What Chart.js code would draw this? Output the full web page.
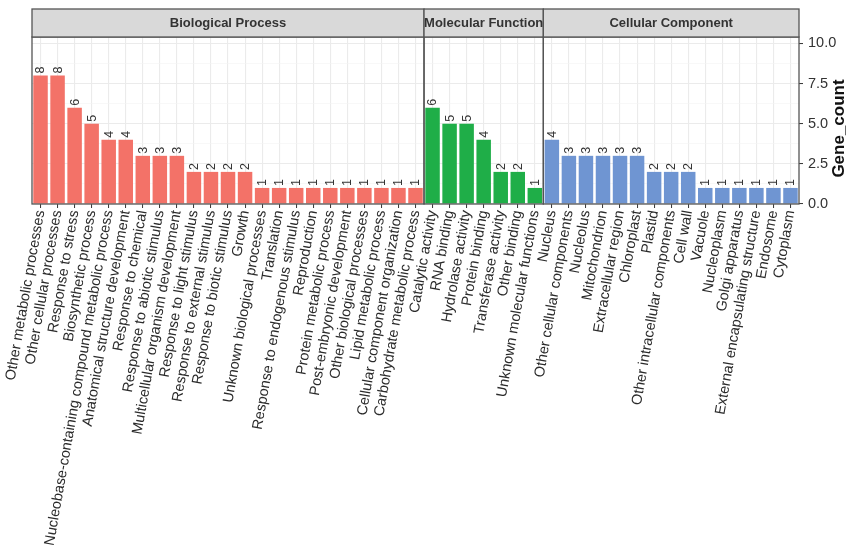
<!DOCTYPE html>
<html>
<head>
<meta charset="utf-8">
<script src="https://cdn.jsdelivr.net/npm/chart.js@4.4.0/dist/chart.umd.min.js"></script>
<style>
html,body{margin:0;padding:0;background:#fff;}
#wrap{width:858px;height:549px;position:relative;}
</style>
</head>
<body>
<div id="wrap"><canvas id="c" width="858" height="549"></canvas></div>
<script>
const groups = ["Biological Process", "Molecular Function", "Cellular Component"];
const bpTerms = ["Other metabolic processes","Other cellular processes","Response to stress","Biosynthetic process","Nucleobase-containing compound metabolic process","Anatomical structure development","Response to chemical","Response to abiotic stimulus","Multicellular organism development","Response to light stimulus","Response to external stimulus","Response to biotic stimulus","Growth","Unknown biological processes","Translation","Response to endogenous stimulus","Reproduction","Protein metabolic process","Post-embryonic development","Other biological processes","Lipid metabolic process","Cellular component organization","Carbohydrate metabolic process"];
const bpCounts = [8,8,6,5,4,4,3,3,3,2,2,2,2,1,1,1,1,1,1,1,1,1,1];
const mfTerms = ["Catalytic activity","RNA binding","Hydrolase activity","Protein binding","Transferase activity","Other binding","Unknown molecular functions"];
const mfCounts = [6,5,5,4,2,2,1];
const ccTerms = ["Nucleus","Other cellular components","Nucleolus","Mitochondrion","Extracellular region","Chloroplast","Plastid","Other intracellular components","Cell wall","Vacuole","Nucleoplasm","Golgi apparatus","External encapsulating structure","Endosome","Cytoplasm"];
const ccCounts = [4,3,3,3,3,3,2,2,2,1,1,1,1,1,1];
const yTicks = [0, 2.5, 5, 7.5, 10];
const groupColors = ["#F37268", "#1FAE48", "#6F95D2"];

const termLists = [bpTerms, mfTerms, ccTerms];
const countLists = [bpCounts, mfCounts, ccCounts];
const labels = [].concat(...termLists);
const values = [].concat(...countLists);
const colors = [];
termLists.forEach((t, gi) => t.forEach(() => colors.push(groupColors[gi])));

const FONT = "'Liberation Sans', Arial, Helvetica, sans-serif";

const facetPlugin = {
  id: 'facets',
  afterDraw(chart) {
    const ctx = chart.ctx;
    const ca = chart.chartArea;
    const xs = chart.scales.x;
    const bounds = [ca.left];
    let idx = 0;
    for (let g = 0; g < termLists.length - 1; g++) {
      idx += termLists[g].length;
      bounds.push((xs.getPixelForValue(idx - 1) + xs.getPixelForValue(idx)) / 2);
    }
    bounds.push(ca.right);
    ctx.save();
    ctx.strokeStyle = '#555';
    ctx.lineWidth = 1.3;
    for (let g = 0; g < groups.length; g++) {
      ctx.strokeRect(bounds[g], ca.top, bounds[g + 1] - bounds[g], ca.bottom - ca.top);
    }
    const sTop = 9, sBot = ca.top;
    for (let g = 0; g < groups.length; g++) {
      ctx.fillStyle = '#D9D9D9';
      ctx.fillRect(bounds[g], sTop, bounds[g + 1] - bounds[g], sBot - sTop);
      ctx.strokeRect(bounds[g], sTop, bounds[g + 1] - bounds[g], sBot - sTop);
      ctx.fillStyle = '#333';
      ctx.font = "bold 13px " + FONT;
      ctx.textAlign = 'center';
      ctx.textBaseline = 'middle';
      ctx.fillText(groups[g], (bounds[g] + bounds[g + 1]) / 2, (sTop + sBot) / 2 + 0.5);
    }
    const meta = chart.getDatasetMeta(0);
    ctx.font = "12.5px " + FONT;
    ctx.fillStyle = '#333';
    ctx.textAlign = 'left';
    ctx.textBaseline = 'middle';
    meta.data.forEach((bar, i) => {
      ctx.save();
      ctx.translate(bar.x, bar.y - 2);
      ctx.rotate(-Math.PI / 2);
      ctx.fillText(String(values[i]), 0, 0.5);
      ctx.restore();
    });
    ctx.save();
    ctx.font = "bold 17px " + FONT;
    ctx.fillStyle = '#111';
    ctx.textAlign = 'center';
    ctx.textBaseline = 'middle';
    ctx.translate(839, 128.5);
    ctx.rotate(-Math.PI / 2);
    ctx.fillText('Gene_count', 0, 0);
    ctx.restore();
    ctx.restore();
  }
};

new Chart(document.getElementById('c'), {
  type: 'bar',
  data: {
    labels: labels,
    datasets: [{
      data: values,
      backgroundColor: colors,
      borderWidth: 0,
      barPercentage: 0.85,
      categoryPercentage: 1.0
    }]
  },
  options: {
    responsive: false,
    animation: false,
    devicePixelRatio: 1,
    layout: { padding: { top: 37, left: 32, right: 0, bottom: 0 } },
    plugins: { legend: { display: false }, tooltip: { enabled: false } },
    scales: {
      x: {
        type: 'category',
        offset: true,
        afterFit(scale) { scale.height = 549 - 204; },
        grid: {
          offset: false,
          color: '#EBEBEB',
          lineWidth: 1.1,
          drawTicks: true,
          tickLength: 4,
          tickColor: '#333',
          tickWidth: 1
        },
        border: { display: false },
        ticks: {
          autoSkip: false,
          minRotation: 80,
          maxRotation: 80,
          padding: 1,
          color: '#2b2b2b',
          font: { family: FONT, size: 14.5 }
        }
      },
      y: {
        position: 'right',
        min: 0,
        max: 10.4,
        afterFit(scale) { scale.width = 858 - 799; },
        afterBuildTicks(scale) {
          const t = [];
          for (let v = 0; v <= 10.4; v += 1.25) t.push({ value: v });
          scale.ticks = t;
        },
        grid: {
          color: (c) => (yTicks.includes(c.tick.value) ? '#EBEBEB' : '#F3F3F3'),
          lineWidth: (c) => (yTicks.includes(c.tick.value) ? 1.1 : 0.6),
          drawTicks: true,
          tickLength: 4,
          tickColor: (c) => (yTicks.includes(c.tick.value) ? '#333' : 'rgba(0,0,0,0)'),
          tickWidth: 1
        },
        border: { display: false },
        ticks: {
          padding: 5,
          color: '#333',
          font: { family: FONT, size: 14.5 },
          callback: (v) => (yTicks.includes(v) ? v.toFixed(1) : '')
        }
      }
    }
  },
  plugins: [facetPlugin]
});
</script>
</body>
</html>
